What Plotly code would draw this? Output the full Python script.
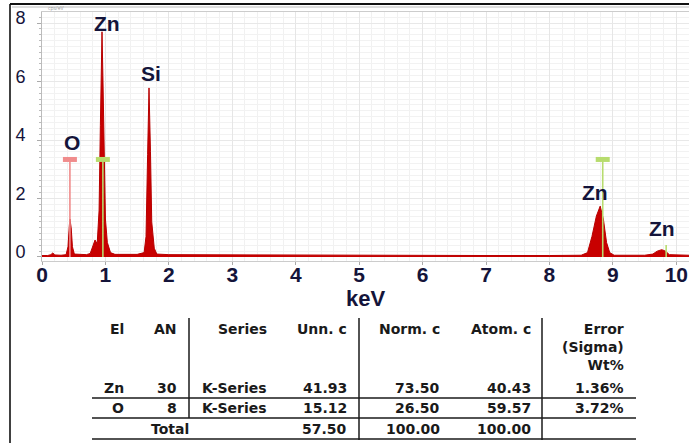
import plotly.graph_objects as go

# ---------------- data ----------------
# EDS spectrum outline (keV, cps/eV)
kev = [0.00, 0.09, 0.14, 0.17, 0.20, 0.30, 0.38, 0.41, 0.43, 0.44, 0.46, 0.48, 0.51,
       0.60, 0.70, 0.76, 0.80, 0.836, 0.87, 0.90, 0.92, 0.946, 0.96, 0.98, 1.00, 1.03,
       1.08, 1.15, 1.30, 1.50, 1.61, 1.64, 1.665, 1.687, 1.71, 1.73, 1.77, 1.81, 2.00,
       3.00, 4.00, 5.00, 6.00, 7.00, 8.00, 8.50, 8.60, 8.67, 8.74, 8.80, 8.85, 8.90,
       8.95, 9.02, 9.50, 9.63, 9.70, 9.77, 9.83, 9.89, 10.20]
cps = [0.05, 0.05, 0.08, 0.14, 0.07, 0.06, 0.08, 0.35, 1.05, 1.30, 1.00, 0.35, 0.10,
       0.08, 0.08, 0.12, 0.35, 0.58, 0.45, 1.60, 4.50, 7.70, 6.20, 2.80, 1.30, 0.50,
       0.15, 0.09, 0.08, 0.09, 0.15, 0.70, 3.50, 5.78, 3.60, 1.20, 0.30, 0.10, 0.08,
       0.07, 0.06, 0.06, 0.05, 0.05, 0.05, 0.06, 0.15, 0.70, 1.40, 1.74, 1.30, 0.50,
       0.15, 0.06, 0.06, 0.10, 0.20, 0.25, 0.20, 0.08, 0.06]

# element marker lines
marker_el = ["O", "Zn", "Zn", "Zn"]
marker_kev = [0.44, 0.96, 8.84, 9.84]
marker_top = [3.42, 3.42, 3.42, 0.41]
marker_box = [True, True, True, False]
marker_color = ["#f08c8c", "#b7dc6e", "#b7dc6e", "#b7dc6e"]

# element labels
label_text = ["O", "Zn", "Si", "Zn", "Zn"]
label_kev = [0.47, 1.02, 1.72, 8.72, 9.77]
label_cps = [3.93, 8.00, 6.29, 2.22, 0.96]

x_ticks = list(range(0, 11))
y_ticks = [0, 2, 4, 6, 8]

# quantification table
tbl_header = ["El", "AN", "Series", "Unn. c", "Norm. c", "Atom. c", "Error<br>(Sigma)<br>Wt%"]
tbl_el = ["Zn", "O"]
tbl_an = [30, 8]
tbl_series = ["K-Series", "K-Series"]
tbl_unn = [41.93, 15.12]
tbl_norm = [73.50, 26.50]
tbl_atom = [40.43, 59.57]
tbl_err = [1.36, 3.72]
tbl_total_label = "Total"
tbl_total = [57.50, 100.00, 100.00]

# ---------------- layout geometry (pixels) ----------------
W, H = 689, 443
L, R, T, B = 42, 0, 12, 182
PW, PH = W - L - R, H - T - B
X_RANGE = [0, 10.2]
Y_RANGE = [-0.137, 8.376]


def px(x):
    return (x - L) / PW


def py(y):
    return (H - B - y) / PH


TXT = "#14143a"

fig = go.Figure()

# spectrum
fig.add_trace(go.Scatter(
    x=kev, y=cps, mode="lines", fill="tozeroy",
    line=dict(color="#b80000", width=1), fillcolor="#c80000",
    hoverinfo="skip", showlegend=False))

# marker lines
for el, k, t, c in zip(marker_el, marker_kev, marker_top, marker_color):
    fig.add_trace(go.Scatter(x=[k, k], y=[0, t], mode="lines",
                             line=dict(color=c, width=1.6),
                             showlegend=False, hoverinfo="skip"))

shapes = []
kev_per_px = (X_RANGE[1] - X_RANGE[0]) / PW
cps_per_px = (Y_RANGE[1] - Y_RANGE[0]) / PH
for k, t, b, c in zip(marker_kev, marker_top, marker_box, marker_color):
    if b:
        shapes.append(dict(type="rect", xref="x", yref="y",
                           x0=k - 7 * kev_per_px, x1=k + 7 * kev_per_px,
                           y0=t - 5 * cps_per_px, y1=t,
                           fillcolor=c, line=dict(width=0), layer="above"))

annotations = []
for s, k, v in zip(label_text, label_kev, label_cps):
    annotations.append(dict(x=k, y=v, xref="x", yref="y", text=s, showarrow=False,
                            font=dict(family="Liberation Sans", size=21, color=TXT,
                                      weight="bold"),
                            xanchor="center", yanchor="middle"))

# tiny unit text at top-left of the plot
annotations.append(dict(x=px(46), y=py(8), xref="paper", yref="paper", text="cps/eV",
                        showarrow=False, font=dict(size=5, color="#999999"),
                        xanchor="left", yanchor="middle"))

# ---------------- table ----------------
TF = dict(family="DejaVu Sans", size=14, color="#1a1a1a", weight="bold")
col_right = [126, 179, 269, 349, 442, 533, 626]
row_y = [388, 408]
header_y = 329


def tnote(x, y, text, anchor="right", yanchor="middle"):
    annotations.append(dict(x=px(x), y=py(y), xref="paper", yref="paper", text=text,
                            showarrow=False, font=TF, xanchor=anchor, yanchor=yanchor,
                            align="right"))


for cx, h in zip(col_right, tbl_header):
    if "<br>" in h:
        tnote(cx, header_y - 10, h, yanchor="top")
    else:
        tnote(cx, header_y, h)

for i in range(len(tbl_el)):
    vals = [tbl_el[i], str(tbl_an[i]), tbl_series[i], f"{tbl_unn[i]:.2f}",
            f"{tbl_norm[i]:.2f}", f"{tbl_atom[i]:.2f}", f"{tbl_err[i]:.2f}%"]
    for cx, v in zip(col_right, vals):
        tnote(cx, row_y[i], v)

tnote(170, 429, tbl_total_label, anchor="center")
for cx, v in zip(col_right[3:6], tbl_total):
    tnote(cx, 429, f"{v:.2f}")


def pline(x0, y0, x1, y1, w=1.5, color="#1a1a1a"):
    shapes.append(dict(type="line", xref="paper", yref="paper",
                       x0=px(x0), y0=py(y0), x1=px(x1), y1=py(y1),
                       line=dict(color=color, width=w)))


for yy in [398, 418, 439]:
    pline(92, yy, 636, yy)
pline(189, 318, 189, 418)
pline(359, 318, 359, 440)
pline(542, 318, 542, 440)

# outer frame
pline(10, 4, 689, 4, w=2.2, color="#111111")
pline(10, 4, 10, 443, w=1.6, color="#111111")
pline(12, 7, 689, 7, w=1, color="#bbbbbb")

fig.update_layout(
    width=W, height=H,
    margin=dict(l=L, r=R, t=T, b=B, pad=0),
    paper_bgcolor="white", plot_bgcolor="white",
    showlegend=False,
    shapes=shapes, annotations=annotations,
    xaxis=dict(range=X_RANGE, tickvals=x_ticks, ticks="outside", ticklen=3,
               tickcolor="#aaaaaa", showline=True, linecolor="#cccccc", mirror=True,
               showgrid=True, gridcolor="#e6e6e6", gridwidth=1,
               minor=dict(dtick=0.2, showgrid=True, gridcolor="#f1f1f1"),
               tickfont=dict(family="Liberation Sans", size=21, color=TXT, weight="bold"),
               ticklabelstandoff=-8,
               title=dict(text="keV", standoff=0,
                          font=dict(family="Liberation Sans", size=22, color=TXT,
                                    weight="bold")),
               zeroline=False, fixedrange=True),
    yaxis=dict(range=Y_RANGE, tickvals=y_ticks, ticks="outside", ticklen=4,
               tickcolor="#aaaaaa", showline=True, linecolor="#bbbbbb", mirror=True,
               showgrid=True, gridcolor="#e8e8e8",
               minor=dict(dtick=0.2, showgrid=True, gridcolor="#f2f2f2",
                          ticks="outside", ticklen=2, tickcolor="#bbbbbb"),
               tickfont=dict(family="Liberation Sans", size=18, color=TXT),
               ticklabelstandoff=8, ticklabelshift=-5,
               zeroline=False, fixedrange=True),
)

fig.write_html("out.html")
